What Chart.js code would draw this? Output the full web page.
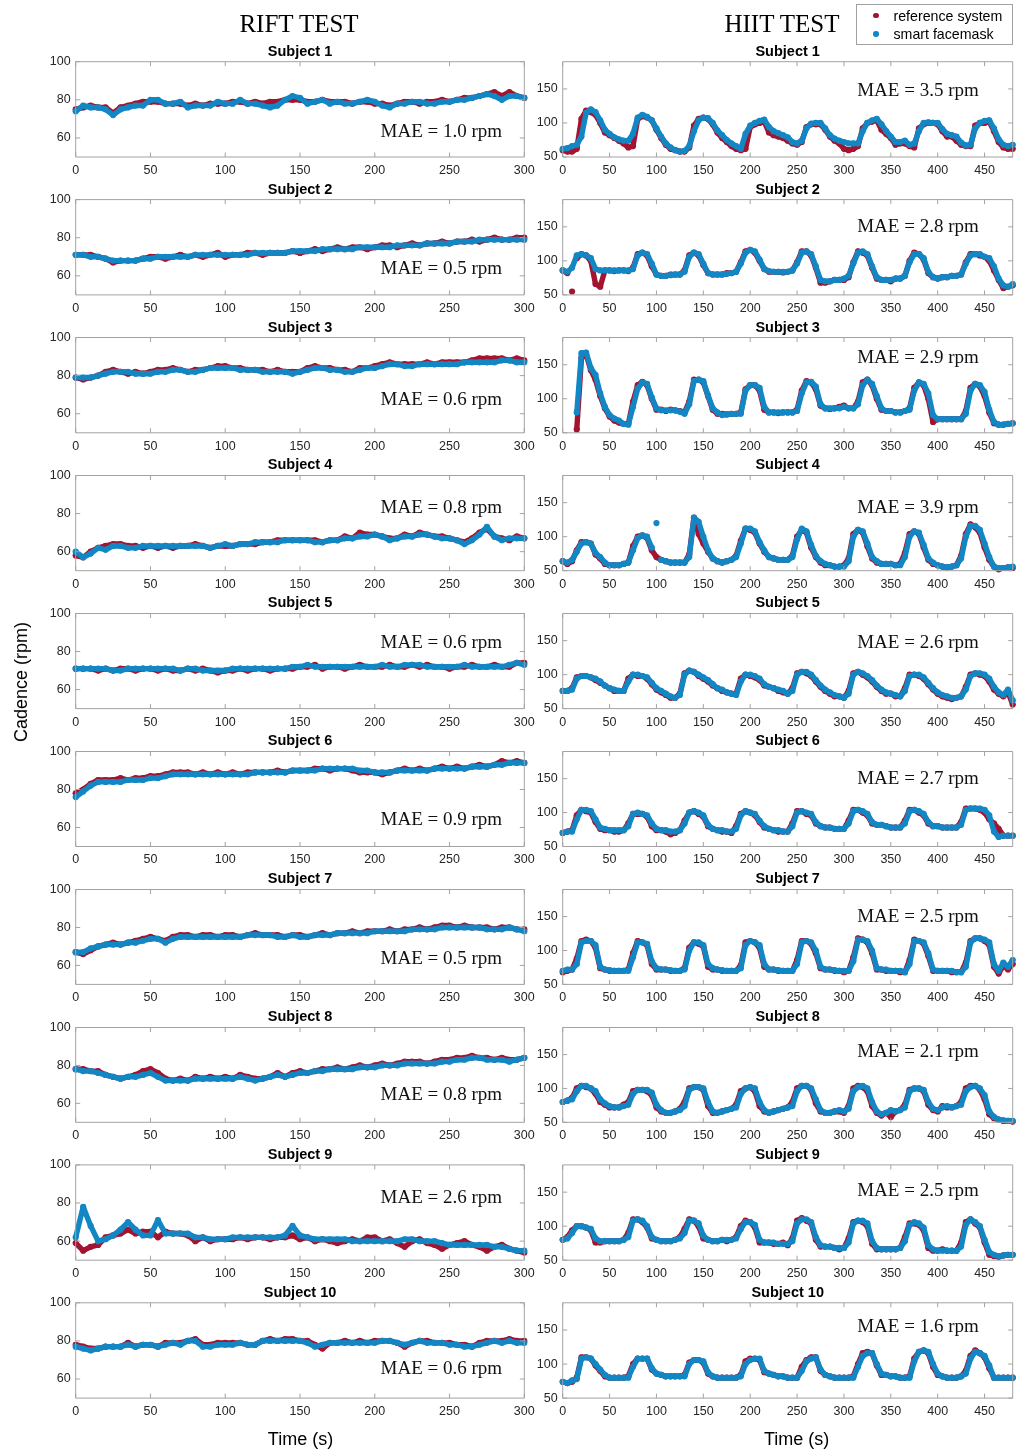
<!DOCTYPE html>
<html>
<head>
<meta charset="utf-8">
<title>Cadence: reference system vs smart facemask</title>
<script src="https://cdn.jsdelivr.net/npm/chart.js@4.4.1/dist/chart.umd.min.js"></script>
<style>
  html, body { margin: 0; padding: 0; background: #fff; }
  #page { position: relative; width: 1021px; height: 1449px; overflow: hidden; background: #fff; }
  #page canvas { position: absolute; }
  .txt { position: absolute; white-space: nowrap; color: #000; }
  .legend { position: absolute; background: #fff; border: 1px solid #a0a0a0; box-sizing: border-box; }
  .dot { position: absolute; border-radius: 50%; }
</style>
</head>
<body>
<div id="page"></div>
<script>
// ---- sampling grids (s) ----
const riftTime = [0,5,10,15,20,25,30,35,40,45,50,55,60,65,70,75,80,85,90,95,100,105,110,115,120,125,130,135,140,145,150,155,160,165,170,175,180,185,190,195,200,205,210,215,220,225,230,235,240,245,250,255,260,265,270,275,280,285,290,295,300];
const hiitTime = [0,5,10,15,20,25,30,35,40,45,50,55,60,65,70,75,80,85,90,95,100,105,110,115,120,125,130,135,140,145,150,155,160,165,170,175,180,185,190,195,200,205,210,215,220,225,230,235,240,245,250,255,260,265,270,275,280,285,290,295,300,305,310,315,320,325,330,335,340,345,350,355,360,365,370,375,380,385,390,395,400,405,410,415,420,425,430,435,440,445,450,455,460,465,470,475,480];

// ---- axis ticks ----
const riftTicksX = [0,50,100,150,200,250,300];
const hiitTicksX = [0,50,100,150,200,250,300,350,400,450];
const riftTicksY = [60,80,100];
const hiitTicksY = [50,100,150];

// ---- mean absolute error per subject (rpm) ----
const riftMae = [1.0,0.5,0.6,0.8,0.6,0.9,0.5,0.8,2.6,0.6];
const hiitMae = [3.5,2.8,2.9,3.9,2.6,2.7,2.5,2.1,2.5,1.6];

// ---- RIFT test cadence (rpm): reference system / smart facemask ----
const riftRef1 = [75,76,77,76,76,73,76,77,78,79, 79,79,78,78,78,77,78,77,78,78, 78,79,79,78,79,78,79,79,80,80, 80,79,79,80,79,79,79,78,79,79, 78,78,77,78,79,79,78,79,79,80, 79,80,81,81,82,83,84,82,84,82, 81];
const riftMask1 = [74,77,76,76,75,72,75,76,77,77, 80,80,78,78,79,76,77,77,77,79, 78,78,80,78,78,77,76,77,80,82, 81,78,79,80,78,79,78,78,79,80, 79,77,76,78,78,79,79,78,78,79, 79,80,80,81,82,83,82,80,82,82, 81];
const riftRef2 = [71,71,71,70,69,67,68,68,68,69, 70,70,69,70,71,70,71,70,71,72, 70,71,71,72,72,71,72,72,72,73, 72,73,74,73,74,75,74,75,75,74, 75,76,76,75,76,77,76,77,77,78, 77,78,78,79,78,79,80,79,79,80, 80];
const riftMask2 = [71,71,70,70,69,68,68,68,68,69, 69,70,70,70,70,70,71,71,71,71, 71,71,71,71,72,72,72,72,72,73, 73,73,73,74,74,74,74,74,75,75, 75,75,75,76,76,76,76,77,77,77, 77,78,78,78,79,79,79,79,79,79, 79];
const riftRef3 = [79,78,79,80,82,83,82,81,82,81, 82,83,83,84,83,82,83,83,84,85, 85,84,84,83,83,83,82,83,82,82, 82,84,85,84,84,83,83,82,84,84, 85,86,87,86,86,86,86,87,86,87, 87,87,87,88,89,89,89,89,88,89, 88];
const riftMask3 = [79,79,79,80,81,82,82,82,81,81, 81,82,82,83,83,82,82,83,84,84, 84,84,83,83,83,82,82,82,82,81, 82,83,84,84,83,83,82,82,83,84, 84,85,86,86,85,85,86,86,86,86, 86,86,87,87,87,87,87,88,88,87, 87];
const riftRef4 = [58,57,60,62,63,64,64,63,63,62, 63,62,63,62,63,63,64,63,62,63, 63,63,64,64,64,65,65,66,66,66, 66,66,66,65,66,66,68,67,70,69, 69,68,67,67,69,68,70,69,68,68, 67,66,65,67,70,72,68,67,66,68, 67];
const riftMask4 = [60,57,59,62,61,63,63,62,62,63, 63,63,63,63,63,63,63,63,62,63, 64,63,64,64,65,65,65,65,66,66, 66,66,65,65,66,66,67,67,68,68, 69,68,66,67,68,68,69,69,68,67, 67,66,64,66,69,73,68,66,67,67, 67];
const riftRef5 = [71,71,71,70,71,70,71,71,70,71, 71,70,71,70,70,71,70,71,70,69, 70,70,71,70,71,71,70,71,71,71, 72,72,73,71,72,72,71,72,73,72, 72,72,73,72,72,73,72,73,72,72, 71,72,72,73,72,72,73,72,72,74, 74];
const riftMask5 = [71,71,71,71,71,70,70,71,71,71, 71,71,71,71,70,71,71,70,70,70, 70,71,71,71,71,71,71,71,71,72, 72,73,72,72,72,72,72,72,72,72, 72,73,72,72,73,73,73,72,72,72, 72,72,73,72,72,72,72,72,73,74, 73];
const riftRef6 = [78,80,83,85,85,85,86,85,86,86, 87,87,88,89,89,89,88,89,88,89, 88,89,88,89,89,89,89,90,89,90, 90,90,91,91,90,91,91,90,89,89, 89,88,89,90,91,90,91,90,91,92, 91,92,91,92,93,92,93,95,94,95, 94];
const riftMask6 = [76,79,82,84,84,84,84,85,85,85, 86,86,87,88,88,88,88,88,88,88, 88,88,88,88,89,89,89,89,89,90, 90,90,90,91,91,91,91,91,90,90, 89,89,89,90,90,90,90,90,91,91, 91,91,91,92,92,92,93,93,94,94, 94];
const riftRef7 = [67,66,68,70,71,72,71,72,73,74, 75,74,73,75,76,76,75,76,76,75, 76,76,75,76,77,76,76,76,75,76, 76,75,76,77,76,77,77,78,77,78, 78,78,79,78,79,79,80,79,80,81, 81,80,81,80,80,80,79,80,80,79, 79];
const riftMask7 = [67,67,69,70,71,71,71,72,72,73, 74,74,72,74,75,75,75,75,75,75, 75,75,75,76,76,76,76,75,75,76, 75,75,76,76,76,77,77,77,77,77, 78,78,78,78,78,79,79,79,79,80, 80,80,80,80,80,79,79,79,80,79, 78];
const riftRef8 = [78,78,77,77,75,74,73,74,75,77, 78,76,73,72,73,72,74,73,74,73, 74,73,75,74,73,73,74,76,74,76, 77,76,77,78,78,79,78,79,80,79, 80,81,80,81,82,82,82,81,82,83, 83,84,84,85,84,84,83,84,83,83, 84];
const riftMask8 = [78,77,77,76,75,74,73,74,74,75, 76,74,72,72,72,72,73,73,73,73, 73,73,74,73,72,73,74,75,74,75, 76,76,77,77,78,78,78,78,79,79, 79,80,80,80,81,81,81,81,81,82, 82,83,83,84,84,83,83,83,82,83, 84];
const riftRef9 = [59,55,57,58,62,63,64,66,64,65, 65,62,65,64,64,63,60,62,60,61, 61,61,62,61,62,62,61,62,62,63, 61,62,60,61,60,59,60,61,60,62, 62,60,61,59,57,60,61,59,58,56, 58,59,60,58,57,55,57,58,56,55, 54];
const riftMask9 = [62,78,68,60,61,63,66,70,66,63, 63,71,64,64,64,64,62,62,61,61, 61,62,62,62,62,62,62,62,63,68, 63,62,61,61,61,61,61,60,60,60, 60,60,60,60,61,61,60,60,60,59, 58,58,58,58,58,58,57,57,56,55, 55];
const riftRef10 = [78,77,76,76,77,77,77,79,77,78, 78,77,79,79,79,80,81,78,78,79, 79,79,79,78,78,80,81,80,81,81, 80,80,78,76,79,79,80,79,80,79, 80,80,80,79,77,79,80,80,79,79, 79,78,78,77,79,80,80,80,81,80, 80];
const riftMask10 = [77,76,75,76,77,77,77,78,77,78, 78,77,78,79,78,80,80,77,77,78, 78,78,79,78,78,80,80,80,80,80, 80,79,77,78,79,79,79,79,79,79, 79,80,80,79,78,79,80,79,79,79, 78,78,77,77,78,79,80,79,80,79, 79];

// ---- HIIT test cadence (rpm): reference system / smart facemask ----
const hiitRef1 = [60,58,58,62,106,118,116,112,100,86, 82,78,74,70,64,66,106,110,108,104, 90,78,68,62,60,58,58,64,96,106, 108,106,98,86,78,72,66,62,60,62, 94,98,100,102,86,82,80,78,74,70, 68,72,94,98,98,98,90,80,74,70, 62,60,62,66,92,100,102,104,90,84, 78,68,70,70,66,64,92,98,100,100, 98,88,80,80,74,68,66,66,96,100, 100,102,88,72,64,62,62];
const hiitMask1 = [62,63,66,68,80,115,120,116,104,90, 84,79,76,74,74,84,108,112,109,104, 92,80,70,64,60,58,59,66,88,104, 108,107,100,89,82,75,70,66,62,84, 96,100,103,105,94,88,85,82,79,72, 70,74,92,99,100,100,92,82,77,74, 72,70,70,70,88,100,104,106,98,88, 80,72,72,74,68,70,88,100,101,100, 100,91,84,82,80,71,67,68,92,100, 103,104,92,76,68,66,68];
const hiitRef2 = [86,82,55,104,110,108,100,66,62,86, 86,85,86,86,85,90,110,112,108,92, 80,78,78,80,80,80,86,108,112,108, 94,82,80,80,80,82,82,84,98,114, 116,112,100,88,84,84,84,83,84,86, 98,114,114,108,90,68,68,70,72,72, 72,76,98,114,112,108,90,74,72,72, 70,74,74,78,100,112,110,102,82,76, 74,76,76,78,78,80,98,110,110,108, 106,100,86,72,60,62,64];
const hiitMask2 = [86,84,90,108,110,108,104,88,86,86, 86,86,86,86,86,88,108,112,110,96, 80,78,78,79,80,80,84,106,112,110, 96,82,80,80,80,81,82,84,96,112, 116,114,102,88,85,84,84,84,84,86, 96,112,114,110,92,72,70,70,72,72, 74,78,96,112,114,110,92,76,72,72, 72,74,74,78,98,110,110,104,84,76, 74,76,76,78,78,80,96,108,110,110, 106,104,92,74,64,62,66];
const hiitRef3 = [null,null,null,55,160,165,142,128,104,86, 74,68,65,63,63,96,120,125,120,100, 84,84,82,84,83,82,80,96,128,128, 124,104,84,78,78,77,78,78,80,114, 120,120,112,84,80,80,79,80,80,80, 84,112,126,124,114,90,86,85,86,88, 90,86,86,96,124,128,120,100,84,82, 82,80,80,82,86,116,124,120,100,66, 70,70,70,70,70,70,82,116,122,118, 104,80,64,62,62,63,64];
const hiitMask3 = [null,null,null,80,167,168,145,135,108,88, 76,71,68,63,62,88,115,124,122,102, 86,83,83,83,83,81,78,92,126,128, 126,105,86,80,76,77,78,78,78,112, 120,120,116,88,80,80,80,80,80,80, 82,108,124,125,118,92,86,86,86,86, 88,86,86,92,120,128,122,104,86,82, 82,80,80,82,84,112,124,122,108,76, 70,70,70,70,70,70,78,112,122,120, 110,84,66,62,62,63,64];
const hiitRef4 = [64,60,64,80,92,92,90,74,68,60, 58,58,58,60,62,86,100,102,98,80, 70,66,64,62,62,62,62,74,128,104, 90,78,68,64,62,64,66,72,94,112, 110,106,90,78,70,68,66,66,66,72, 100,110,106,84,70,62,58,58,56,56, 58,68,104,110,106,86,68,62,60,60, 60,58,60,76,104,108,104,84,66,60, 58,56,55,56,58,72,104,118,114,106, 84,66,56,52,54,55,54];
const hiitMask4 = [64,62,66,78,90,92,90,76,70,62, 58,58,58,60,62,80,98,102,100,84, 120,66,64,62,62,62,62,70,128,122, 100,80,68,64,62,64,66,70,90,112, 112,108,92,80,70,68,66,66,66,70, 96,112,108,88,72,64,60,58,56,56, 56,64,100,110,108,90,70,64,60,60, 60,58,58,70,100,108,106,88,68,62, 58,56,55,56,58,68,100,116,116,110, 90,70,56,54,54,55,56];
const hiitRef5 = [76,76,80,96,98,98,96,92,88,84, 80,76,76,76,94,100,98,98,94,86, 78,74,70,66,66,72,102,106,104,98, 94,90,84,80,76,74,72,72,94,100, 98,96,92,84,82,80,76,74,72,80, 102,104,102,98,90,82,76,72,68,68, 66,76,102,104,100,96,90,82,76,72, 72,68,68,80,100,100,98,94,86,78, 72,68,66,64,66,68,82,100,102,100, 98,90,78,72,68,74,56];
const hiitMask5 = [76,76,78,94,98,98,96,94,90,84, 80,78,76,76,90,100,100,98,96,88, 80,76,72,68,66,70,100,106,104,100, 96,92,86,80,78,74,72,70,90,100, 100,98,94,86,82,80,78,76,72,76, 100,104,104,100,92,84,78,74,70,68, 66,72,100,104,102,98,92,84,78,74, 72,70,68,76,98,100,100,96,88,80, 74,70,68,66,66,68,78,98,102,102, 100,94,82,74,70,78,62];
const hiitRef6 = [70,72,74,96,104,102,100,86,76,74, 74,72,72,74,84,98,98,98,94,80, 74,74,72,68,70,74,88,100,102,98, 94,80,76,74,72,72,70,80,98,102, 100,96,86,78,76,74,72,72,72,84, 102,102,98,96,84,80,78,78,76,76, 76,88,104,104,100,96,84,82,82,80, 78,78,78,88,104,104,100,96,84,80, 80,78,78,78,78,86,106,106,106,104, 100,90,84,76,66,66,66];
const hiitMask6 = [70,72,72,90,104,104,102,90,78,76, 74,74,74,74,80,98,100,98,96,84, 76,74,74,72,72,74,84,100,102,100, 96,82,76,74,74,72,72,76,96,102, 100,98,88,80,76,74,74,72,72,80, 100,102,100,98,86,80,78,78,76,76, 76,84,102,104,102,98,86,82,82,80, 78,78,78,84,102,104,102,98,86,80, 80,78,78,78,78,82,104,106,106,106, 104,96,72,64,66,66,66];
const hiitRef7 = [68,70,72,88,114,116,114,104,74,72, 70,70,70,70,72,96,114,112,108,80, 72,72,72,70,70,70,74,104,112,110, 106,76,72,72,70,70,70,70,78,112, 114,112,104,76,72,72,70,70,70,70, 86,114,114,110,96,74,72,72,70,70, 68,70,90,118,116,112,96,72,72,70, 70,70,68,68,86,116,114,110,92,70, 70,70,70,68,68,68,82,114,118,118, 114,108,76,66,78,72,80];
const hiitMask7 = [70,72,72,80,112,114,114,108,76,72, 71,70,70,70,70,90,112,112,110,84, 74,72,72,71,70,70,72,100,112,112, 108,80,74,72,71,70,70,70,74,108, 114,112,108,80,72,72,71,70,70,70, 80,112,114,112,100,76,72,72,71,70, 70,70,84,116,116,114,100,74,72,72, 70,70,70,68,80,114,114,112,96,72, 70,70,70,70,68,68,76,112,118,118, 116,112,80,70,82,76,86];
const hiitRef8 = [80,82,86,100,104,102,100,92,80,76, 72,72,72,76,80,96,98,98,96,90, 72,66,64,64,66,70,80,100,102,102, 98,74,64,64,66,68,70,76,96,100, 102,96,74,66,64,66,68,70,72,80, 100,104,104,98,78,66,64,64,66,66, 64,74,100,104,102,96,74,64,60,64, 58,66,68,76,98,100,100,96,76,68, 66,74,72,72,74,80,100,104,104,98, 84,62,56,54,52,52,51];
const hiitMask8 = [80,82,84,96,104,104,100,96,84,78, 74,72,72,74,76,92,98,98,98,94, 76,68,64,64,66,68,74,98,102,102, 100,80,66,64,66,68,70,72,92,100, 102,100,80,68,64,66,68,70,72,74, 96,104,104,100,84,68,64,64,66,68, 66,70,96,102,104,100,80,66,62,64, 68,66,68,72,96,100,100,98,80,70, 68,72,74,72,74,76,96,102,104,100, 90,66,58,54,53,52,52];
const hiitRef9 = [80,84,94,100,100,98,94,76,76,78, 78,78,78,80,90,110,110,106,98,82, 80,78,78,78,80,84,96,110,108,100, 82,80,78,78,80,78,80,84,100,108, 106,98,76,76,76,74,74,76,72,82, 108,112,108,104,80,70,70,70,68,66, 68,82,106,108,106,100,74,66,66,66, 66,66,68,84,104,104,102,94,68,64, 64,66,64,64,64,76,106,110,104,98, 76,58,56,55,57,58,58];
const hiitMask9 = [80,82,90,100,100,98,96,82,78,78, 78,78,78,80,84,108,110,108,100,84, 80,78,78,78,80,82,90,108,108,104, 86,80,78,78,80,80,80,82,96,106, 106,102,80,76,76,76,74,74,74,78, 104,110,110,106,84,72,70,70,68,68, 68,76,104,108,108,104,78,68,66,66, 66,66,68,78,102,106,104,98,72,66, 64,64,64,64,64,70,102,110,106,100, 80,62,58,56,57,58,58];
const hiitRef10 = [74,72,74,80,110,110,108,98,90,82, 80,80,80,80,82,100,108,108,108,92, 86,84,82,82,82,82,84,102,106,106, 102,86,82,80,80,80,80,80,84,104, 108,108,106,88,86,84,82,82,80,80, 80,96,106,110,110,90,84,82,80,80, 80,80,82,100,116,118,116,98,84,84, 82,82,80,80,82,108,118,120,116,96, 84,82,80,80,80,82,90,112,120,116, 110,94,80,80,80,80,80];
const hiitMask10 = [74,72,76,78,108,110,108,100,92,84, 80,80,80,80,80,96,108,108,108,94, 86,84,82,82,82,82,82,100,106,106, 104,88,82,80,80,80,80,80,82,100, 106,108,108,90,86,84,82,82,80,80, 80,90,104,108,110,92,84,82,80,80, 80,80,80,96,112,116,116,100,86,84, 82,82,80,80,80,104,118,120,118,100, 86,82,80,80,80,82,86,108,118,116, 112,98,80,80,80,80,80];

const riftRef  = [riftRef1, riftRef2, riftRef3, riftRef4, riftRef5, riftRef6, riftRef7, riftRef8, riftRef9, riftRef10];
const riftMask = [riftMask1, riftMask2, riftMask3, riftMask4, riftMask5, riftMask6, riftMask7, riftMask8, riftMask9, riftMask10];
const hiitRef  = [hiitRef1, hiitRef2, hiitRef3, hiitRef4, hiitRef5, hiitRef6, hiitRef7, hiitRef8, hiitRef9, hiitRef10];
const hiitMask = [hiitMask1, hiitMask2, hiitMask3, hiitMask4, hiitMask5, hiitMask6, hiitMask7, hiitMask8, hiitMask9, hiitMask10];

// ---- styling and page layout ----
const RED = '#a2142f';
const BLUE = '#1386c4';
const AXIS = '#a3a3a3';
const TICK_TEXT = '#262626';
const SANS = '"Liberation Sans", Arial, Helvetica, sans-serif';
const SERIF = '"Liberation Serif", "Times New Roman", serif';

const COLS = [
  { left: 75.7,  width: 448.6, xMax: 300, yMin: 50, yMax: 100, ticksX: riftTicksX, ticksY: riftTicksY,
    time: riftTime, ref: riftRef, mask: riftMask, mae: riftMae, maeX: 365.6,
    maeDy: [69, 68, 61.5, 31, 28, 67, 68, 66, 32, 65] },
  { left: 562.7, width: 450,   xMax: 480, yMin: 50, yMax: 190, ticksX: hiitTicksX, ticksY: hiitTicksY,
    time: hiitTime, ref: hiitRef, mask: hiitMask, mae: hiitMae, maeX: 355.3,
    maeDy: [28.3, 26.4, 19.5, 31.6, 27.7, 25.8, 25.9, 23, 25.2, 23.3] }
];
const ROW_TOP0 = 61.7, ROW_PITCH = 137.9, PLOT_H = 95.3;

const page = document.getElementById('page');

// Text placed by its alphabetic baseline
function addText(str, cx, baseline, size, family, opts = {}) {
  const el = document.createElement('div');
  el.className = 'txt';
  el.textContent = str;
  const asc = family === SERIF ? 0.8375 : 0.8465;
  el.style.font = `${opts.weight || 'normal'} ${size}px ${family}`;
  el.style.lineHeight = size + 'px';
  el.style.top = (baseline - asc * size) + 'px';
  el.style.left = cx + 'px';
  if (opts.align !== 'left') el.style.transform = 'translateX(-50%)';
  if (opts.color) el.style.color = opts.color;
  page.appendChild(el);
  return el;
}

// Segments next to an isolated spike are left open so that outliers stay single dots
function isSpike(vals, i) {
  if (i <= 0 || i >= vals.length - 1) return false;
  const a = vals[i - 1], b = vals[i], c = vals[i + 1];
  if (a == null || b == null || c == null) return false;
  const d1 = b - a, d2 = c - b;
  return Math.abs(d1) >= 25 && Math.abs(d2) >= 25 && Math.sign(d1) !== Math.sign(d2);
}

function series(label, time, vals, color, order) {
  return {
    label,
    data: time.map((t, i) => ({ x: t, y: vals[i] })),
    showLine: true,
    borderColor: color,
    backgroundColor: color,
    borderWidth: 5.4,
    borderJoinStyle: 'round',
    borderCapStyle: 'round',
    pointRadius: 3.1,
    pointBorderWidth: 0,
    pointBackgroundColor: color,
    pointHoverRadius: 3.1,
    tension: 0,
    spanGaps: false,
    clip: false,
    order,
    segment: {
      borderColor: ctx => (isSpike(vals, ctx.p0DataIndex) || isSpike(vals, ctx.p1DataIndex)) ? 'rgba(0,0,0,0)' : undefined
    }
  };
}

// Box frame with inward ticks on all four sides, plus the MAE annotation
const frameTicks = {
  id: 'frameTicks',
  afterDraw(chart, args, opts) {
    const { ctx, chartArea: a, scales: { x, y } } = chart;
    const L = 4.5;
    ctx.save();
    ctx.strokeStyle = AXIS;
    ctx.lineWidth = 1;
    ctx.beginPath();
    ctx.rect(a.left, a.top, a.right - a.left, a.bottom - a.top);
    x.ticks.forEach(t => {
      const px = x.getPixelForValue(t.value);
      ctx.moveTo(px, a.bottom); ctx.lineTo(px, a.bottom - L);
      ctx.moveTo(px, a.top);    ctx.lineTo(px, a.top + L);
    });
    y.ticks.forEach(t => {
      const py = y.getPixelForValue(t.value);
      ctx.moveTo(a.left, py);  ctx.lineTo(a.left + L, py);
      ctx.moveTo(a.right, py); ctx.lineTo(a.right - L, py);
    });
    ctx.stroke();
    if (opts.text) {
      ctx.fillStyle = '#111';
      ctx.font = `19px ${SERIF}`;
      ctx.textAlign = 'center';
      ctx.textBaseline = 'alphabetic';
      ctx.fillText(opts.text, a.left + opts.dx, a.top + opts.dy + 6.3);
    }
    ctx.restore();
  }
};

function makePanel(col, row) {
  const c = COLS[col];
  const plotLeft = c.left, plotTop = ROW_TOP0 + ROW_PITCH * row;
  const canvasLeft = Math.floor(plotLeft) - 50;
  const canvasTop = Math.floor(plotTop) - 12;
  const axisW = plotLeft - canvasLeft;
  const padTop = plotTop - canvasTop;
  const cw = Math.ceil(axisW + c.width + 24);
  const ch = Math.ceil(padTop + PLOT_H + 28);
  const padRight = cw - axisW - c.width;
  const xAxisH = ch - padTop - PLOT_H;

  const canvas = document.createElement('canvas');
  canvas.width = cw; canvas.height = ch;
  canvas.style.left = canvasLeft + 'px';
  canvas.style.top = canvasTop + 'px';
  canvas.style.width = cw + 'px';
  canvas.style.height = ch + 'px';
  page.appendChild(canvas);

  new Chart(canvas, {
    type: 'scatter',
    data: {
      datasets: [
        series('smart facemask', c.time, c.mask[row], BLUE, 0),
        series('reference system', c.time, c.ref[row], RED, 1)
      ]
    },
    options: {
      responsive: false,
      animation: false,
      devicePixelRatio: 1,
      events: [],
      layout: { padding: { left: 0, top: padTop, right: padRight, bottom: 0 } },
      plugins: {
        legend: { display: false },
        tooltip: { enabled: false },
        frameTicks: {
          text: 'MAE = ' + c.mae[row].toFixed(1) + ' rpm',
          dx: c.maeX,
          dy: c.maeDy[row]
        }
      },
      scales: {
        x: {
          type: 'linear',
          min: 0, max: c.xMax,
          grid: { display: false, drawTicks: false },
          border: { display: false },
          afterBuildTicks: s => { s.ticks = c.ticksX.map(v => ({ value: v })); },
          afterFit: s => { s.height = xAxisH; },
          ticks: { autoSkip: false, maxRotation: 0, minRotation: 0, padding: 6, color: TICK_TEXT,
                   font: { family: SANS, size: 12.5 } }
        },
        y: {
          type: 'linear',
          min: c.yMin, max: c.yMax,
          grid: { display: false, drawTicks: false },
          border: { display: false },
          afterBuildTicks: s => { s.ticks = c.ticksY.map(v => ({ value: v })); },
          afterFit: s => { s.width = axisW; },
          ticks: { autoSkip: false, padding: 5, color: TICK_TEXT,
                   font: { family: SANS, size: 12.5 } }
        }
      }
    },
    plugins: [frameTicks]
  });

  addText('Subject ' + (row + 1), plotLeft + c.width / 2, plotTop - 5.7, 14.5, SANS, { weight: 'bold' });
}

for (let row = 0; row < 10; row++) {
  makePanel(0, row);
  makePanel(1, row);
}

// column headings
addText('RIFT TEST', 299, 31.7, 25, SERIF);
addText('HIIT TEST', 782, 31.7, 25, SERIF);

// axis titles
addText('Time (s)', 300.5, 1445, 18, SANS, { color: '#000' });
addText('Time (s)', 796.7, 1445, 18, SANS, { color: '#000' });
const yTitle = document.createElement('div');
yTitle.className = 'txt';
yTitle.textContent = 'Cadence (rpm)';
yTitle.style.font = `18px ${SANS}`;
yTitle.style.lineHeight = '18px';
yTitle.style.left = '20.5px';
yTitle.style.top = '682px';
yTitle.style.transform = 'translate(-50%, -50%) rotate(-90deg)';
page.appendChild(yTitle);

// legend
const leg = document.createElement('div');
leg.className = 'legend';
leg.style.left = '855.5px'; leg.style.top = '4px';
leg.style.width = '157px'; leg.style.height = '41px';
page.appendChild(leg);
[[RED, 15.3, 20.7, 'reference system'], [BLUE, 34, 39.3, 'smart facemask']].forEach(([col, cy, base, label]) => {
  const d = document.createElement('div');
  d.className = 'dot';
  d.style.background = col;
  d.style.width = '5.6px'; d.style.height = '5.6px';
  d.style.left = (876 - 2.8) + 'px'; d.style.top = (cy - 2.8) + 'px';
  page.appendChild(d);
  addText(label, 893.5, base, 14.2, SANS, { align: 'left', color: '#000' });
});
</script>
</body>
</html>
